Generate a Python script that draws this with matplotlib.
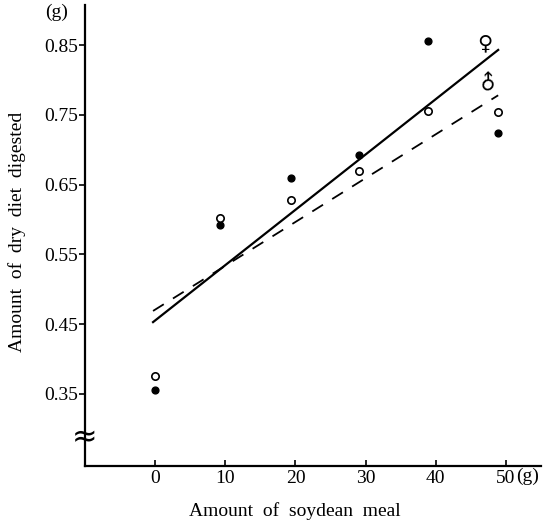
import matplotlib.pyplot as plt

plt.rcParams['font.family'] = ['Liberation Serif', 'DejaVu Serif']

# soybean meal amounts (g) and dry diet digested (g)
x_filled = [0, 9.3, 19.4, 29.1, 38.9, 48.9]
y_filled = [0.356, 0.592, 0.659, 0.692, 0.856, 0.724]
x_open = [0, 9.3, 19.4, 29.1, 38.9, 48.9]
y_open = [0.376, 0.602, 0.628, 0.669, 0.755, 0.754]

# regression lines, endpoints
solid_x = [-0.3, 48.9]
solid_y = [0.453, 0.843]
dashed_x = [-0.3, 48.9]
dashed_y = [0.469, 0.778]

yticks = [0.35, 0.45, 0.55, 0.65, 0.75, 0.85]
xticks = [0, 10, 20, 30, 40, 50]

fig = plt.figure(figsize=(5.52, 5.27), dpi=100)
ax = fig.add_axes([0.154, 0.116, 0.826, 0.874])

ax.plot(solid_x, solid_y, color='black', lw=1.6)
ax.plot(dashed_x, dashed_y, color='black', lw=1.3, dashes=(7, 6))
ax.scatter(x_filled, y_filled, s=24, color='black', zorder=3)
ax.scatter(x_open, y_open, s=28, facecolor='white', edgecolor='black',
           linewidth=1.2, zorder=3)

ax.set_xlim(-10, 55)
ax.set_ylim(0.247, 0.907)

for s in ['top', 'right']:
    ax.spines[s].set_visible(False)
for s in ['left', 'bottom']:
    ax.spines[s].set_linewidth(1.6)

ax.set_xticks(xticks)
ax.set_xticklabels([str(t) for t in xticks])
ax.set_yticks(yticks)
ax.set_yticklabels(['%.2f' % t for t in yticks])
ax.tick_params(axis='x', direction='in', length=4, width=1.2, labelsize=14, pad=3)
ax.tick_params(axis='y', direction='out', length=4, width=1.2, labelsize=14, pad=1)

ax.set_xlabel('Amount  of  soydean  meal', fontsize=14)
ax.set_ylabel('Amount  of  dry  diet  digested', fontsize=14)
ax.xaxis.set_label_coords(0.46, -0.078)
ax.yaxis.set_label_coords(-0.13, 0.507)

# units and sex symbols
ax.text(-14.1, 0.897, '(g)', fontsize=14, ha='center', va='center', clip_on=False)
ax.text(51.5, 0.232, '(g)', fontsize=14, ha='left', va='center', clip_on=False)
ax.text(47.0, 0.853, '\u2640', fontsize=15, ha='center', va='center',
        family=['DejaVu Sans'])
ax.text(47.6, 0.797, '\u2642', fontsize=15, ha='center', va='center',
        family=['DejaVu Sans'], rotation=45)

# axis break mark
ax.text(-10, 0.288, '\u2248', fontsize=22, ha='center', va='center',
        family=['DejaVu Sans'], clip_on=False)

fig.savefig('out.png', dpi=100)
